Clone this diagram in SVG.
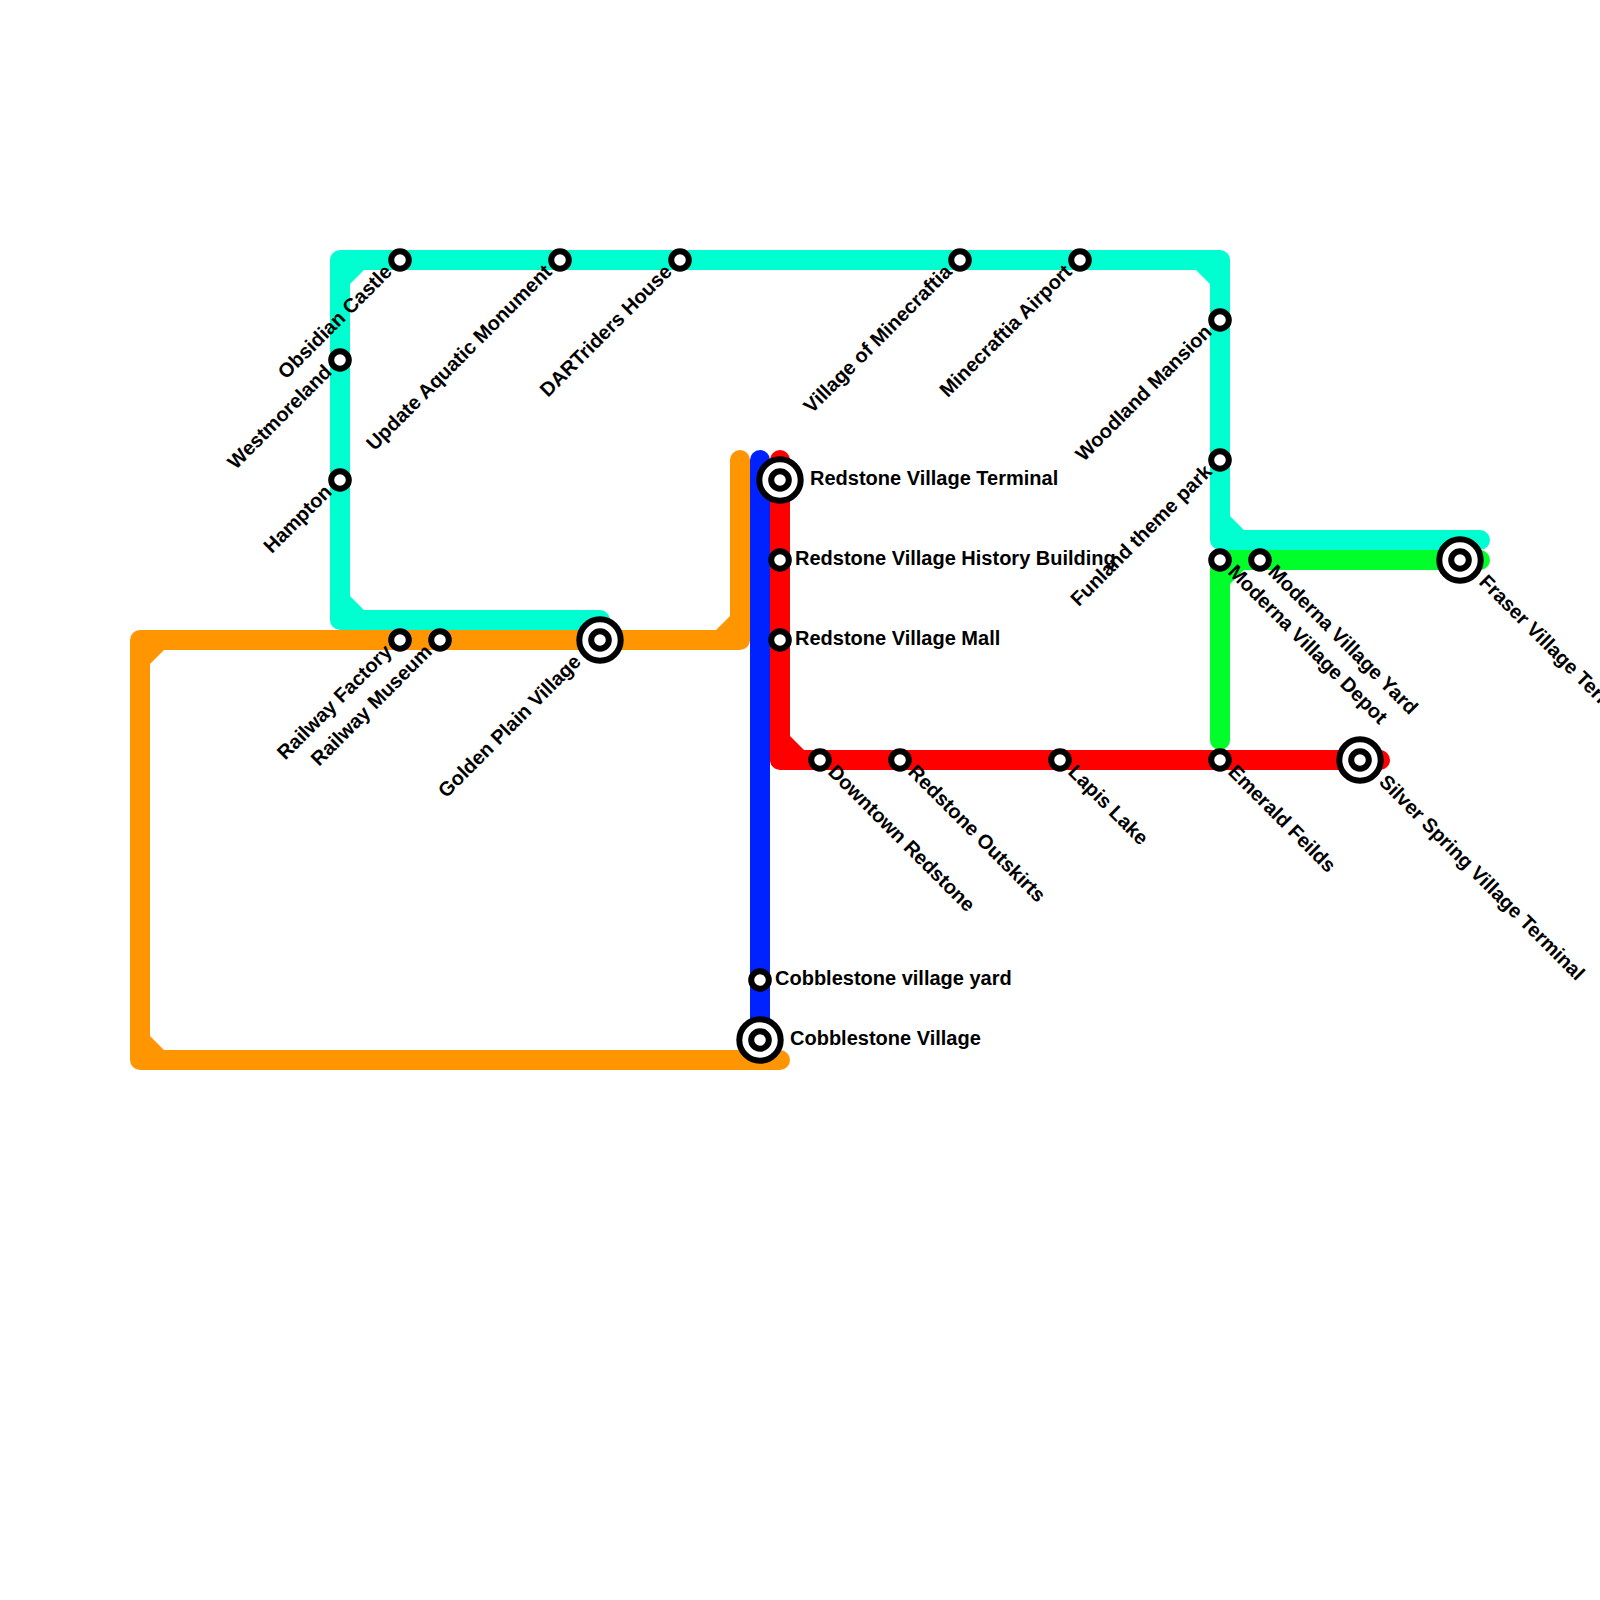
<svg xmlns="http://www.w3.org/2000/svg" width="1600" height="1600" viewBox="0 0 1600 1600">
<style>
.line{fill:none;stroke-width:20;stroke-linecap:round;stroke-linejoin:round}
.cyan{stroke:#00ffd0}.green{stroke:#00ff2a}.red{stroke:#ff0000}.blue{stroke:#0022ff}.orange{stroke:#ff9500}
.fcyan{fill:#00ffd0}.fgreen{fill:#00ff2a}.fred{fill:#ff0000}.forange{fill:#ff9500}
.ring{fill:#fff;stroke:#000;stroke-width:6}
text{font-family:"Liberation Sans",Arial,sans-serif;font-weight:bold;font-size:20px;fill:#000}
.e{text-anchor:end}
</style>
<defs>
<g id="st"><circle class="ring" r="8.8"/></g>
<g id="term"><circle class="ring" r="20.7"/><circle class="ring" r="8.8"/></g>
</defs>
<g id="connectors">
<path class="line cyan" d="M600 620H340V260H1220V540H1480"/>
<path class="fcyan" d="M350 610V596L364 610ZM350 270V284L364 270ZM1210 270H1196L1210 284ZM1230 530V516L1244 530Z"/>
<path class="line green" d="M1480 560H1220V740"/>
<path class="fgreen" d="M1230 570H1244L1230 584Z"/>
<path class="line red" d="M780 460V760H1380"/>
<path class="fred" d="M790 750V736L804 750Z"/>
<path class="line blue" d="M760 460V1040"/>
<path class="line orange" d="M740 460V640H140V1060H780"/>
<path class="forange" d="M730 630H716L730 616ZM150 650H164L150 664ZM150 1050V1036L164 1050Z"/>
</g>
<g id="obsidian-castle"><use href="#st" x="400" y="260"/><text transform="translate(393 273) rotate(-45)" class="e">Obsidian Castle</text></g>
<g id="westmoreland"><use href="#st" x="340" y="360"/><text transform="translate(333 373) rotate(-45)" class="e">Westmoreland</text></g>
<g id="hampton"><use href="#st" x="340" y="480"/><text transform="translate(333 493) rotate(-45)" class="e">Hampton</text></g>
<g id="update-aquatic-monument"><use href="#st" x="560" y="260"/><text transform="translate(553 273) rotate(-45)" class="e">Update Aquatic Monument</text></g>
<g id="dartriders-house"><use href="#st" x="680" y="260"/><text transform="translate(673 273) rotate(-45)" class="e">DARTriders House</text></g>
<g id="village-of-minecraftia"><use href="#st" x="960" y="260"/><text transform="translate(953 273) rotate(-45)" class="e">Village of Minecraftia</text></g>
<g id="minecraftia-airport"><use href="#st" x="1080" y="260"/><text transform="translate(1073 273) rotate(-45)" class="e">Minecraftia Airport</text></g>
<g id="woodland-mansion"><use href="#st" x="1220" y="320"/><text transform="translate(1213 333) rotate(-45)" class="e">Woodland Mansion</text></g>
<g id="funland-theme-park"><use href="#st" x="1220" y="460"/><text transform="translate(1213 473) rotate(-45)" class="e">Funland theme park</text></g>
<g id="railway-factory"><use href="#st" x="400" y="640"/><text transform="translate(393 653) rotate(-45)" class="e">Railway Factory</text></g>
<g id="railway-museum"><use href="#st" x="440" y="640"/><text transform="translate(433 653) rotate(-45)" class="e">Railway Museum</text></g>
<g id="golden-plain-village"><use href="#term" x="600" y="640"/><text transform="translate(582 663) rotate(-45)" class="e">Golden Plain Village</text></g>
<g id="redstone-village-terminal"><use href="#term" x="780" y="480"/><text x="810" y="485">Redstone Village Terminal</text></g>
<g id="redstone-village-history-building"><use href="#st" x="780" y="560"/><text x="795" y="565">Redstone Village History Building</text></g>
<g id="redstone-village-mall"><use href="#st" x="780" y="640"/><text x="795" y="645">Redstone Village Mall</text></g>
<g id="cobblestone-village-yard"><use href="#st" x="760" y="980"/><text x="775" y="985">Cobblestone village yard</text></g>
<g id="cobblestone-village"><use href="#term" x="760" y="1040"/><text x="790" y="1045">Cobblestone Village</text></g>
<g id="downtown-redstone"><use href="#st" x="820" y="760"/><text transform="translate(827 773) rotate(45)">Downtown Redstone</text></g>
<g id="redstone-outskirts"><use href="#st" x="900" y="760"/><text transform="translate(907 773) rotate(45)">Redstone Outskirts</text></g>
<g id="lapis-lake"><use href="#st" x="1060" y="760"/><text transform="translate(1067 773) rotate(45)">Lapis Lake</text></g>
<g id="emerald-feilds"><use href="#st" x="1220" y="760"/><text transform="translate(1227 773) rotate(45)">Emerald Feilds</text></g>
<g id="silver-spring-village-terminal"><use href="#term" x="1360" y="760"/><text transform="translate(1378 783) rotate(45)">Silver Spring Village Terminal</text></g>
<g id="moderna-village-depot"><use href="#st" x="1220" y="560"/><text transform="translate(1227 573) rotate(45)">Moderna Village Depot</text></g>
<g id="moderna-village-yard"><use href="#st" x="1260" y="560"/><text transform="translate(1267 573) rotate(45)">Moderna Village Yard</text></g>
<g id="fraser-village-terminal"><use href="#term" x="1460" y="560"/><text transform="translate(1478 583) rotate(45)">Fraser Village Terminal</text></g>
</svg>
